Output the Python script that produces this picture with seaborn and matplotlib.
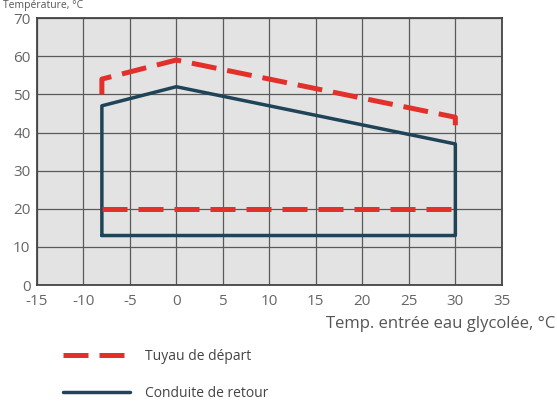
import pandas as pd
import matplotlib
matplotlib.use('Agg')
import matplotlib.pyplot as plt
import seaborn as sns

# return line (closed envelope)
ret_x = [-8, -8, 0, 30, 30, -8]
ret_y = [13, 47, 52, 37, 13, 13]

# supply line upper part and lower limit
dep_top_x = [-8, -8, 0, 30, 30]
dep_top_y = [50, 54, 59, 44, 40]
dep_low_x = [-8, 30]
dep_low_y = [20, 20]

x_ticks = list(range(-15, 40, 5))
y_ticks = list(range(0, 80, 10))

RED = '#e3302b'
BLUE = '#1f4357'

sns.set_style('white')
plt.rcParams['font.family'] = ['Open Sans', 'DejaVu Sans']

fig = plt.figure(figsize=(5.57, 4.01), dpi=100)
ax = fig.add_axes([0.066, 0.289, 0.835, 0.666])
ax.set_facecolor('#e4e3e3')

df_ret = pd.DataFrame({'x': ret_x, 'y': ret_y})
df_top = pd.DataFrame({'x': dep_top_x, 'y': dep_top_y})
df_low = pd.DataFrame({'x': dep_low_x, 'y': dep_low_y})

sns.lineplot(data=df_ret, x='x', y='y', sort=False, estimator=None, color=BLUE, lw=2.5,
             ax=ax, zorder=3)
sns.lineplot(data=df_top, x='x', y='y', sort=False, estimator=None, color=RED, lw=3.6,
             ax=ax, zorder=4)
ax.lines[-1].set_dashes((5, 2.2))
sns.lineplot(data=df_low, x='x', y='y', sort=False, estimator=None, color=RED, lw=3.6,
             ax=ax, zorder=4)
ax.lines[-1].set_dashes((5, 2.2))

ax.set_xlim(-15, 35)
ax.set_ylim(0, 70)
ax.set_xticks(x_ticks)
ax.set_yticks(y_ticks)
ax.set_xticklabels([str(t) for t in x_ticks])
ax.set_yticklabels([str(t) for t in y_ticks])
ax.grid(True, color='#5a5a5a', lw=0.9)
ax.set_axisbelow(True)
for s in ax.spines.values():
    s.set_color('#444444')
    s.set_linewidth(1.3)
ax.tick_params(axis='both', length=4, width=0.9, color='#555555', labelcolor='#666666',
               labelsize=11)
ax.tick_params(axis='y', pad=0.5)
ax.tick_params(axis='x', pad=2.5)
ax.set_xlabel('')
ax.set_ylabel('')

fig.text(0.997, 0.192, 'Temp. entrée eau glycolée, °C', ha='right', va='center',
         fontsize=12, color='#555555')
# y label at the very top
fig.text(0.005, 1.0, 'Température, °C', ha='left', va='top',
         fontsize=7.5, color='#555555')

h1, = ax.plot([], [], color=RED, lw=3.6, dashes=(5, 2.2))
h2, = ax.plot([], [], color=BLUE, lw=2.5)
fig.legend([h1, h2], ['Tuyau de départ', 'Conduite de retour'], loc='lower left',
           bbox_to_anchor=(0.113, 0.0), frameon=False, fontsize=10, handlelength=4.8,
           labelspacing=1.6, handletextpad=1.1, labelcolor='#444444',
           borderpad=0, borderaxespad=0)

fig.savefig('out.png', dpi=100)
